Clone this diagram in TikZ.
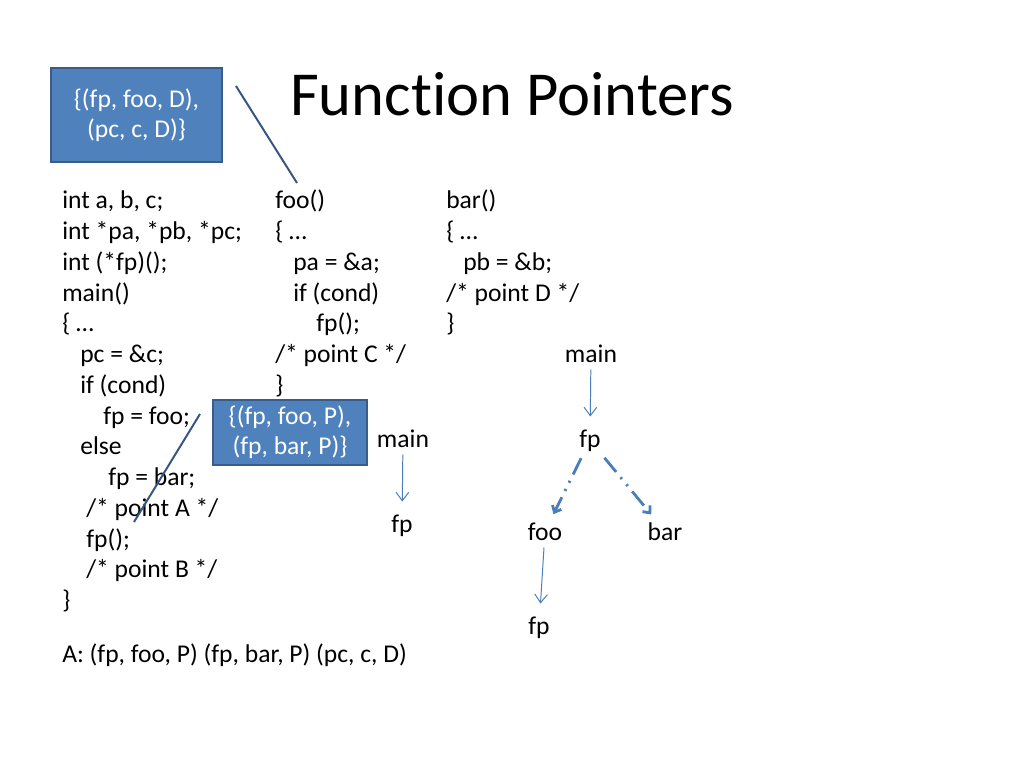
\documentclass[tikz,border=0pt]{standalone}
\usepackage{fontspec}
\setmainfont{Carlito}[Ligatures=NoCommon]
\usetikzlibrary{arrows.meta,positioning}
\definecolor{boxblue}{RGB}{79,129,189}
\definecolor{boxedge}{RGB}{56,93,138}
\definecolor{arrowblue}{RGB}{74,126,187}
\definecolor{strikeblue}{RGB}{55,85,130}

\tikzset{
  code/.style={anchor=base west,inner sep=0pt,font=\fontsize{18.2}{22}\selectfont},
  tnode/.style={anchor=base,inner sep=3pt,font=\fontsize{18.2}{22}\selectfont},
  setbox/.style={fill=boxblue,draw=boxedge,line width=1.4pt,text=white,align=center,
    font=\fontsize{18.2}{21.5}\selectfont},
  callarrow/.style={arrowblue,line width=0.7pt,-{Straight Barb[length=6pt,width=9pt]}},
  maybearrow/.style={arrowblue,line width=2pt,
    dash pattern=on 13pt off 5pt on 1.5pt off 5pt on 1.5pt off 5pt,
    -{Straight Barb[length=4pt,width=7pt]}},
  strikeline/.style={strikeblue,line width=1.4pt}
}

\begin{document}
\begin{tikzpicture}[x=0.025cm,y=-0.025cm]

%% -- page ------------------------------------------------------------------
\useasboundingbox (0,0) rectangle (1024,768);
\fill[white] (0,0) rectangle (1024,768);

%% -- title -----------------------------------------------------------------
\node[anchor=base,inner sep=0pt,font=\fontsize{44.5}{52}\selectfont] (title) at (512,116) {Function Pointers};

%% -- main program ------------------------------------------------------------
\node[code] (m1)  at (62,208) {int a, b, c;};
\node[code] (m2)  at (62,239) {int *pa, *pb, *pc;};
\node[code] (m3)  at (62,270) {int (*fp)();};
\node[code] (m4)  at (62,301) {main()};
\node[code] (m5)  at (62,331) {\{ …};
\node[code] (m6)  at (80,362) {pc = \&c;};
\node[code] (m7)  at (80,393) {if (cond)};
\node[code] (m8)  at (103,424) {fp = foo;};
\node[code] (m9)  at (80,454) {else};
\node[code] (m10) at (108,485) {fp = bar;};
\node[code] (m11) at (86,516) {/* point A */};
\node[code] (m12) at (86,547) {fp();};
\node[code] (m13) at (86,577) {/* point B */};
\node[code] (m14) at (62,608) {\}};
\node[code] (result) at (62,662) {A: (fp, foo, P) (fp, bar, P) (pc, c, D)};

%% -- foo -------------------------------------------------------------------
\node[code] (f1) at (275,208) {foo()};
\node[code] (f2) at (275,239) {\{ …};
\node[code] (f3) at (293,270) {pa = \&a;};
\node[code] (f4) at (293,301) {if (cond)};
\node[code] (f5) at (316,331) {fp();};
\node[code] (f6) at (275,362) {/* point C */};
\node[code] (f7) at (275,393) {\}};

%% -- bar -------------------------------------------------------------------
\node[code] (b1) at (446,208) {bar()};
\node[code] (b2) at (446,239) {\{ …};
\node[code] (b3) at (463,270) {pb = \&b;};
\node[code] (b4) at (446,301) {/* point D */};
\node[code] (b5) at (446,331) {\}};

%% -- points-to sets ----------------------------------------------------------
\node[setbox,minimum width=4.275cm,minimum height=2.35cm] (setD) at (136.5,115)
  {\{(fp, foo, D),\\(pc, c, D)\}};
\node[setbox,minimum width=3.85cm,minimum height=1.625cm] (setP) at (290,432.5)
  {\{(fp, foo, P),\\(fp, bar, P)\}};

% strike-out lines
\coordinate (sD1) at (236,86);
\coordinate (sD2) at (297,183);
\coordinate (sP1) at (200,414);
\coordinate (sP2) at (134,522);
\draw[strikeline] (sD1) -- (sD2);
\draw[strikeline] (sP1) -- (sP2);

%% -- call graph at point A -----------------------------------------------------
\node[tnode] (mainA) at (403,447) {main};
\node[tnode] (fpA)   at (402,532) {fp};
\draw[callarrow,shorten <=2pt,shorten >=6pt] (mainA) -- (fpA);

%% -- call graph at point D -----------------------------------------------------
\node[tnode] (mainD) at (591,362) {main};
\node[tnode] (fpD)   at (590,447) {fp};
\node[tnode] (fooD)  at (545,540) {foo};
\node[tnode] (barD)  at (665,540) {bar};
\node[tnode] (fpF)   at (539,634) {fp};
\draw[callarrow,shorten <=2pt,shorten >=6pt] (mainD) -- (fpD);
\draw[maybearrow,shorten <=2pt,shorten >=3pt] (fpD) -- (fooD);
\draw[maybearrow,shorten <=2pt,shorten >=3pt] (fpD) -- (barD);
\draw[callarrow,shorten <=2pt,shorten >=6pt] (fooD) -- (fpF);

\end{tikzpicture}
\end{document}
